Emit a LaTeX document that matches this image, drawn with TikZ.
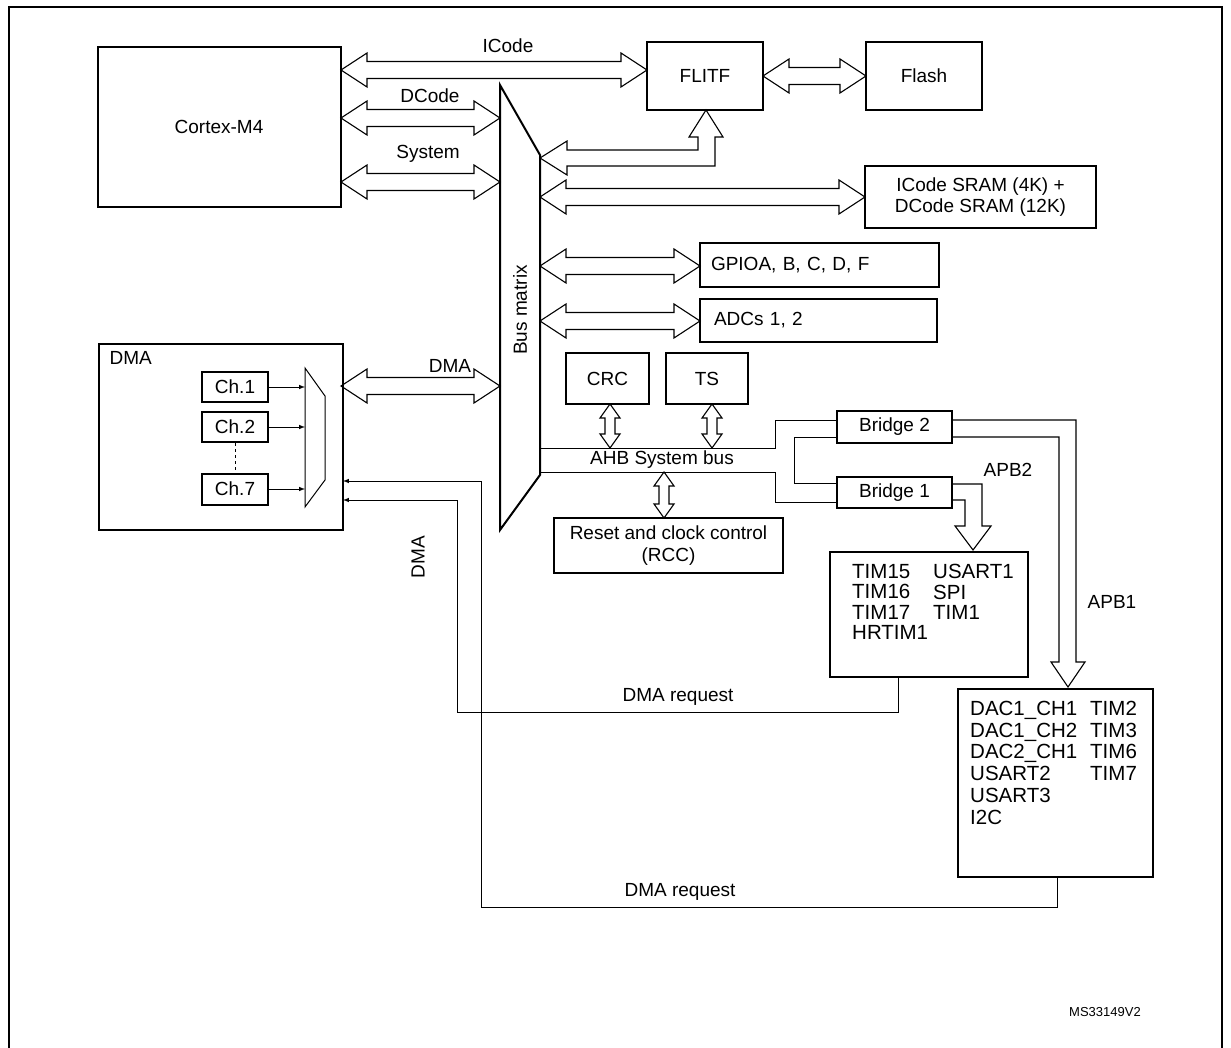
\documentclass[tikz,border=0pt]{standalone}
\usepackage{fontspec}
\setmainfont{Liberation Sans}
\begin{document}
\newcommand\harr[3]{\draw[arr] (#1,#3) -- (#1+26,#3-17) -- (#1+26,#3-8.5) -- (#2-26,#3-8.5) -- (#2-26,#3-17) -- (#2,#3) -- (#2-26,#3+17) -- (#2-26,#3+8.5) -- (#1+26,#3+8.5) -- (#1+26,#3+17) -- cycle;}
\newcommand\varr[3]{\draw[arr] (#1,#2) -- (#1-10,#2+14) -- (#1-5,#2+14) -- (#1-5,#3-14) -- (#1-10,#3-14) -- (#1,#3) -- (#1+10,#3-14) -- (#1+5,#3-14) -- (#1+5,#2+14) -- (#1+10,#2+14) -- cycle;}
\begin{tikzpicture}[x=1pt,y=-1pt,
  box/.style={draw,line width=2pt,inner sep=0pt,align=center},
  arr/.style={draw,line width=1.1pt,line join=miter},
  thin/.style={line width=1pt},
  lst/.style={anchor=north west,align=left,inner sep=0pt,font=\fontsize{20.5}{20.5}\selectfont},
  every node/.style={font=\fontsize{19}{21.5}\selectfont}]
\useasboundingbox (0,0) rectangle (1231,1048);
\draw[line width=1.8pt] (9,1050) -- (9,7) -- (1222,7) -- (1222,1050);
% boxes
\node[box,minimum width=243,minimum height=160] (cm4) at (219,127) {Cortex-M4};
\node[box,minimum width=116,minimum height=68] (flitf) at (705,76) {FLITF};
\node[box,minimum width=116,minimum height=68] (flash) at (924,76) {Flash};
\node[box,minimum width=231,minimum height=62] (sram) at (980.5,197) {ICode SRAM (4K) +\\DCode SRAM (12K)};
\node[box,minimum width=239,minimum height=44,text width=225,align=left] (gpio) at (819.5,265) {\hspace*{4pt}GPIOA, B, C, D, F};
\node[box,minimum width=237,minimum height=43,text width=225,align=left] (adc) at (818.5,320.5) {\hspace*{8pt}ADCs 1, 2};
\node[box,minimum width=244,minimum height=185] (dma) at (221,437) {};
\node[anchor=west] (dmal) at (106,358) {DMA};
\node[box,minimum width=66,minimum height=30] (ch1) at (235,387) {Ch.1};
\node[box,minimum width=66,minimum height=30] (ch2) at (235,427) {Ch.2};
\node[box,minimum width=66,minimum height=31] (ch7) at (235,489) {Ch.7};
\draw[thin,dash pattern=on 3pt off 3pt] (ch2.south) -- (ch7.north);
\draw[thin] (305,368) -- (325,396) -- (325,480) -- (305,507) -- cycle;
\coordinate (m1) at (305,387); \coordinate (m2) at (305,427); \coordinate (m7) at (305,489);
\draw[thin,-latex] (ch1.east) -- (m1);
\draw[thin,-latex] (ch2.east) -- (m2);
\draw[thin,-latex] (ch7.east) -- (m7);
% bus matrix
\draw[line width=2pt] (500,85) -- (540,155) -- (540,475) -- (500,530) -- cycle;
\node[rotate=90] (bm) at (520,310) {Bus matrix};
% wide arrows
\harr{341}{647}{70}
\node (icode) at (508,46) {ICode};
\harr{763}{866}{76}
\harr{341}{500}{118}
\node (dcode) at (430,96) {DCode};
\harr{341}{500}{182}
\node (system) at (428,154) {System};
\draw[arr] (540,158) -- (567,141) -- (567,150) -- (698,150) -- (698,137) -- (689,137) -- (706,110) -- (723,137) -- (715,137) -- (715,166) -- (567,166) -- (567,175) -- cycle;
\harr{540}{865}{197}
\harr{540}{700}{266}
\harr{540}{700}{321}
\harr{341}{500}{386}
\node (dmab) at (450,366) {DMA};
% CRC TS RCC
\node[box,minimum width=83,minimum height=51] (crc) at (607.5,378.5) {CRC};
\node[box,minimum width=82,minimum height=51] (ts) at (707,378.5) {TS};
\node[box,minimum width=229,minimum height=55] (rcc) at (668.5,545.5) {Reset and clock control\\(RCC)};
\varr{610}{404}{448}
\varr{712}{404}{448}
\varr{664}{472}{518}
% bridges
\node[box,minimum width=115,minimum height=32] (br2) at (894.5,427) {Bridge 2};
\node[box,minimum width=115,minimum height=31] (br1) at (894.5,492.5) {Bridge 1};
\draw[thin] (540,448) -- (775,448) -- (775,420) -- (br2.west |- 0,420);
\draw[thin] (540,472) -- (775,472) -- (775,502) -- (br1.west |- 0,502);
\node (ahb) at (662,460) {AHB System bus};
\draw[thin] (br2.west |- 0,437) -- (794,437) -- (794,483) -- (br1.west |- 0,483);
% APB2
\node[box,minimum width=198,minimum height=125] (apb2) at (929,614.5) {};
\draw[arr] (br1.east |- 0,484) -- (982,484) -- (982,526) -- (991,526) -- (973,550) -- (955,526) -- (965,526) -- (965,500) -- (br1.east |- 0,500);
\node (apb2l) at (1008,470) {APB2};
\node[lst] (t2a) at (852,564) {TIM15\\TIM16\\TIM17\\HRTIM1};
\node[lst] (t2b) at (933,564) {USART1\\SPI\\TIM1};
% APB1
\node[box,minimum width=195,minimum height=188] (apb1) at (1055.5,783) {};
\draw[arr] (br2.east |- 0,420) -- (1076,420) -- (1076,662) -- (1085,662) -- (1068,687) -- (1051,662) -- (1059,662) -- (1059,437) -- (br2.east |- 0,437);
\node (apb1l) at (1112,602) {APB1};
\node[lst,font=\fontsize{20.5}{21.7}\selectfont] (t1a) at (970,701) {DAC1\_CH1\\DAC1\_CH2\\DAC2\_CH1\\USART2\\USART3\\I2C};
\node[lst,font=\fontsize{20.5}{21.7}\selectfont] (t1b) at (1090,701) {TIM2\\TIM3\\TIM6\\TIM7};
% DMA requests
\coordinate (r1) at (343,481); \coordinate (r2) at (343,500);
\draw[thin,-latex] (apb1.south -| 1057,0) -- (1057,907) -- (481,907) -- (481,481) -- (r1);
\draw[thin,-latex] (apb2.south -| 898,0) -- (898,712) -- (457,712) -- (457,500) -- (r2);
\node (dr2) at (678,697) {DMA request};
\node (dr1) at (680,892) {DMA request};
\node[rotate=90] (dmav) at (418,557) {DMA};
\node[font=\fontsize{13}{15}\selectfont] (ms) at (1105,1012) {MS33149V2};
\end{tikzpicture}
\end{document}
